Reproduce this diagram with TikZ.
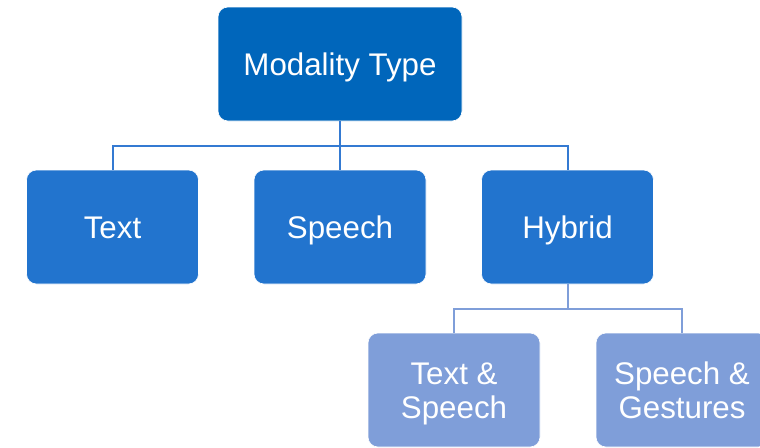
\documentclass[tikz,border=0pt]{standalone}
\usepackage{fontspec}
\setmainfont{Liberation Sans}
\definecolor{rootblue}{RGB}{0,102,187}
\definecolor{midblue}{RGB}{34,116,206}
\definecolor{leafblue}{RGB}{127,158,217}
\definecolor{linkblue}{RGB}{52,122,210}
\tikzset{
  box/.style={rounded corners=10pt, draw=white, line width=0.6pt,
    minimum width=172pt, minimum height=114pt, inner sep=0pt,
    text=white, align=center, font=\fontsize{31.3}{34}\selectfont,
    text height=22pt, text depth=0pt},
  rootbox/.style={box, fill=rootblue, minimum width=244pt},
  midbox/.style={box, fill=midblue},
  leafbox/.style={box, fill=leafblue, text height=56pt},
  link/.style={draw=linkblue, line width=2pt},
  leaflink/.style={draw=leafblue, line width=2pt}
}
\begin{document}
\begin{tikzpicture}[x=1pt,y=-1pt]
\useasboundingbox (0,0) rectangle (760,447);
\clip (0,0) rectangle (760,447);
% tree of modality types
\node[rootbox] (root) at (340,64) {Modality Type};
\node[midbox] (text) at (112.5,227) {Text};
\node[midbox] (speech) at (340,227) {Speech};
\node[midbox] (hybrid) at (567.5,227) {Hybrid};
\node[leafbox] (ts) at (454,390) {Text \&\\Speech};
\node[leafbox] (sg) at (682,390) {Speech \&\\Gestures};
% first level links
\draw[link] (root.south) -- ++(0,24.5) -| (text.north);
\draw[link] (root.south) -- (speech.north);
\draw[link] (root.south) -- ++(0,24.5) -| (hybrid.north);
% second level links
\draw[leaflink] (hybrid.south) -- ++(0,24.5) -| (ts.north);
\draw[leaflink] (hybrid.south) -- ++(0,24.5) -| (sg.north);
\end{tikzpicture}
\end{document}
